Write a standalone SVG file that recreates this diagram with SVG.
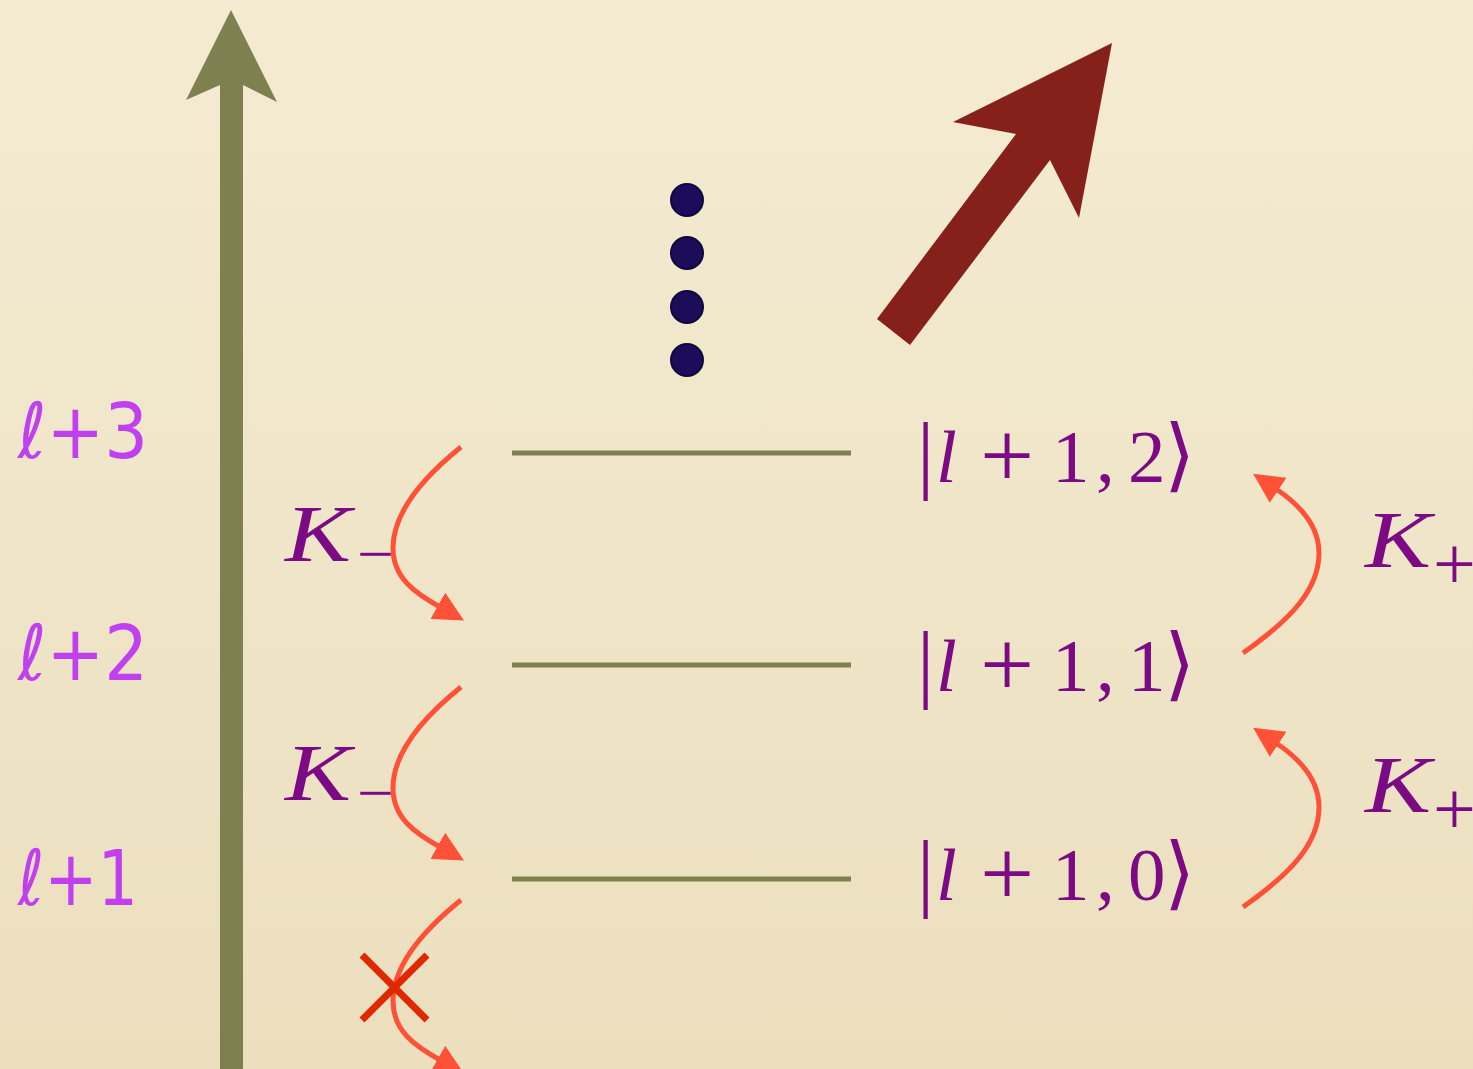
<svg xmlns="http://www.w3.org/2000/svg" width="1473" height="1069" viewBox="0 0 1473 1069">
<defs>
<linearGradient id="bg" x1="0" y1="0" x2="0" y2="1">
<stop offset="0" stop-color="#f4ebd2"/>
<stop offset="1" stop-color="#ebdfbe"/>
</linearGradient>
<marker id="ah" markerUnits="userSpaceOnUse" markerWidth="30" markerHeight="30" viewBox="0 0 24 24" refX="2" refY="12" orient="auto">
<path d="M0,0 L24,12 L0,24 Z" fill="#ff5038"/>
</marker>
<style>
.lvl{font-family:"DejaVu Sans",sans-serif;font-size:77px;fill:#c040f0}
.k{font-family:"Liberation Serif",serif;font-style:italic;font-size:80px;fill:#7b0a84}
.sub{font-family:"Liberation Serif",serif;font-size:60px;fill:#7b0a84}
.subp{font-family:"Liberation Serif",serif;font-size:76px;fill:#7b0a84}
.ket{font-family:"Liberation Serif","DejaVu Serif",serif;font-size:75px;fill:#7b0a84}
.bar{font-size:86px}
.it{font-style:italic}
.pl{font-size:96px}
.ang{font-family:"DejaVu Serif","DejaVu Sans",serif;font-size:80px}
.line{stroke:#7f8050;stroke-width:5}
.arc{fill:none;stroke:#ff5038;stroke-width:5;marker-end:url(#ah)}
.dot{fill:#1c0c5a;stroke:#12073c;stroke-width:2}
</style>
</defs>
<rect width="1473" height="1069" fill="url(#bg)"/>

<g id="axis">
<polygon points="231,10 277,102 243,85 243,1069 220,1069 220,85 186,100" fill="#7f8050"/>
</g>

<g id="big-arrow">
<polygon points="877,319 1016,134 953,122 1112,43 1079,218 1050,160 910,345" fill="#86201a"/>
</g>

<g id="dots">
<circle class="dot" cx="687" cy="200" r="16"/>
<circle class="dot" cx="687" cy="253" r="16"/>
<circle class="dot" cx="687" cy="307" r="16"/>
<circle class="dot" cx="687" cy="360" r="16"/>
</g>

<g id="level-labels">
<text class="lvl" x="18" y="458" textLength="130" lengthAdjust="spacingAndGlyphs">ℓ+3</text>
<text class="lvl" x="18" y="680" textLength="130" lengthAdjust="spacingAndGlyphs">ℓ+2</text>
<text class="lvl" x="18" y="905" textLength="120" lengthAdjust="spacingAndGlyphs">ℓ+1</text>
</g>

<g id="state-2">
<line class="line" x1="512" y1="453" x2="851" y2="453"/>
<text class="ket" y="482"><tspan class="bar" x="917">|</tspan><tspan class="it" x="936">l</tspan><tspan class="pl" x="980" y="487">+</tspan><tspan x="1052" y="482">1</tspan><tspan x="1096">,</tspan><tspan x="1128">2</tspan><tspan class="ang" x="1164">⟩</tspan></text>
</g>

<g id="state-1">
<line class="line" x1="512" y1="665" x2="851" y2="665"/>
<text class="ket" y="691"><tspan class="bar" x="917">|</tspan><tspan class="it" x="936">l</tspan><tspan class="pl" x="980" y="696">+</tspan><tspan x="1052" y="691">1</tspan><tspan x="1096">,</tspan><tspan x="1128">1</tspan><tspan class="ang" x="1164">⟩</tspan></text>
</g>

<g id="state-0">
<line class="line" x1="512" y1="879" x2="851" y2="879"/>
<text class="ket" y="900"><tspan class="bar" x="917">|</tspan><tspan class="it" x="936">l</tspan><tspan class="pl" x="980" y="905">+</tspan><tspan x="1052" y="900">1</tspan><tspan x="1096">,</tspan><tspan x="1128">0</tspan><tspan class="ang" x="1164">⟩</tspan></text>
</g>

<g id="op-labels">
<text class="k" x="285" y="561" textLength="66" lengthAdjust="spacingAndGlyphs">K</text>
<text class="sub" x="357" y="574" textLength="37" lengthAdjust="spacingAndGlyphs">−</text>
<text class="k" x="285" y="800" textLength="66" lengthAdjust="spacingAndGlyphs">K</text>
<text class="sub" x="357" y="813" textLength="37" lengthAdjust="spacingAndGlyphs">−</text>
<text class="k" x="1365" y="567" textLength="66" lengthAdjust="spacingAndGlyphs">K</text>
<text class="subp" x="1433" y="589">+</text>
<text class="k" x="1365" y="812" textLength="66" lengthAdjust="spacingAndGlyphs">K</text>
<text class="subp" x="1433" y="834">+</text>
</g>

<g id="connectors">
<path class="arc" d="M461,447 C420,480 393,515 393,548 C393,578 415,593 440,607"/>
<path class="arc" d="M461,687 C420,720 393,755 393,788 C393,818 415,833 440,847"/>
<path class="arc" d="M461,900 C420,933 393,968 393,1001 C393,1031 415,1046 440,1060"/>
<path class="arc" d="M1243,653 C1290,620 1319,590 1319,553 C1319,525 1300,505 1276,489"/>
<path class="arc" d="M1243,907 C1290,874 1319,844 1319,807 C1319,779 1300,759 1276,743"/>
<g id="forbidden" stroke="#e02800" stroke-width="7">
<line x1="362" y1="955" x2="427" y2="1020"/>
<line x1="427" y1="955" x2="362" y2="1020"/>
</g>
</g>
</svg>
